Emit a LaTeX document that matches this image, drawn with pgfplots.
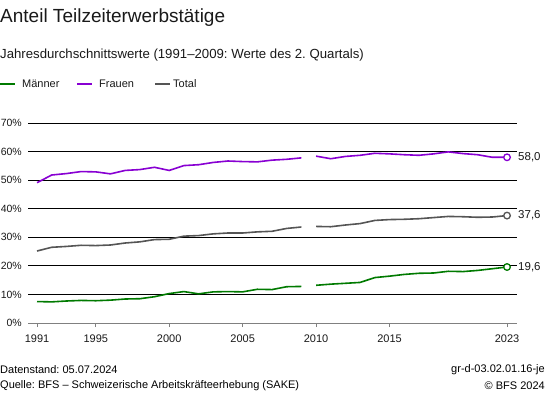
\documentclass[border=0pt]{standalone}
\usepackage{pgfplots}
\pgfplotsset{compat=1.18}
\usepackage{fontspec}
\setmainfont{Liberation Sans}
\frenchspacing
\definecolor{cmen}{RGB}{0,122,0}
\definecolor{cwomen}{RGB}{136,0,210}
\definecolor{ctotal}{RGB}{85,85,85}
\definecolor{ctxt}{RGB}{25,25,25}
\begin{document}
\begin{tikzpicture}[x=1bp,y=1bp]
\path[use as bounding box] (0,0) rectangle (550,395);
\begin{axis}[
  at={(28bp,72bp)}, anchor=south west, scale only axis,
  width=489bp, height=200bp,
  xmin=1990.387, xmax=2023.68, ymin=0, ymax=70,
  axis x line*=bottom, axis y line*=left,
  x axis line style={draw=gray, line width=0.9bp, -},
  y axis line style={draw=none},
  ytick={10,20,30,40,50,60,70},
  yticklabels={10\%,20\%,30\%,40\%,50\%,60\%,70\%},
  extra y ticks={0}, extra y tick labels={0\%},
  extra y tick style={ymajorgrids=false},
  ymajorgrids, grid style={black, line width=0.8bp},
  ytick style={draw=none},
  yticklabel style={font=\fontsize{10.5bp}{13bp}\selectfont, text=ctxt, anchor=east, inner sep=0pt, xshift=-2bp},
  xtick={1991,1995,2000,2005,2010,2015,2023},
  xticklabels={1991,1995,2000,2005,2010,2015,2023},
  xtick style={draw=gray, line width=0.9bp},
  tick align=outside, major tick length=4bp,
  xticklabel style={font=\fontsize{11bp}{13bp}\selectfont, text=ctxt, yshift=-4bp},
  unbounded coords=jump,
  clip=false,
]
% Frauen
\addplot[cwomen, line width=1.6bp] coordinates {
(1991,49.1)(1992,51.8)(1993,52.3)(1994,53.0)(1995,52.9)(1996,52.2)(1997,53.4)(1998,53.7)(1999,54.5)(2000,53.4)
(2001,55.1)(2002,55.4)(2003,56.2)(2004,56.7)(2005,56.5)(2006,56.4)(2007,57.0)(2008,57.3)(2009,57.8)
(2009.5,nan)
(2010,58.4)(2011,57.5)(2012,58.3)(2013,58.7)(2014,59.4)(2015,59.2)(2016,58.9)(2017,58.7)(2018,59.2)(2019,59.9)
(2020,59.3)(2021,58.9)(2022,58.0)(2023,58.0)};
% Total
\addplot[ctotal, line width=1.6bp] coordinates {
(1991,25.2)(1992,26.5)(1993,26.8)(1994,27.2)(1995,27.1)(1996,27.3)(1997,28.0)(1998,28.4)(1999,29.2)(2000,29.3)
(2001,30.4)(2002,30.6)(2003,31.2)(2004,31.5)(2005,31.5)(2006,31.9)(2007,32.1)(2008,33.1)(2009,33.6)
(2009.5,nan)
(2010,33.8)(2011,33.7)(2012,34.3)(2013,34.8)(2014,35.9)(2015,36.2)(2016,36.3)(2017,36.5)(2018,36.9)(2019,37.3)
(2020,37.2)(2021,37.0)(2022,37.1)(2023,37.6)};
% Maenner
\addplot[cmen, line width=1.6bp] coordinates {
(1991,7.5)(1992,7.4)(1993,7.7)(1994,7.9)(1995,7.8)(1996,8.0)(1997,8.4)(1998,8.5)(1999,9.2)(2000,10.3)
(2001,11.0)(2002,10.2)(2003,10.9)(2004,11.0)(2005,10.9)(2006,11.8)(2007,11.7)(2008,12.7)(2009,12.8)
(2009.5,nan)
(2010,13.2)(2011,13.6)(2012,13.9)(2013,14.2)(2014,15.9)(2015,16.4)(2016,17.0)(2017,17.4)(2018,17.5)(2019,18.1)
(2020,18.0)(2021,18.4)(2022,19.0)(2023,19.6)};
% end markers
\addplot[only marks, mark=*, mark size=3.3bp, mark options={draw=cwomen, fill=white, line width=1.3bp}] coordinates {(2023,58.0)};
\addplot[only marks, mark=*, mark size=3.3bp, mark options={draw=ctotal, fill=white, line width=1.3bp}] coordinates {(2023,37.6)};
\addplot[only marks, mark=*, mark size=3.3bp, mark options={draw=cmen, fill=white, line width=1.3bp}] coordinates {(2023,19.6)};
\node[anchor=west, font=\fontsize{11.5bp}{13bp}\selectfont, text=ctxt, inner sep=0pt] at (axis cs:2023,58.0) [xshift=11bp] {58,0};
\node[anchor=west, font=\fontsize{11.5bp}{13bp}\selectfont, text=ctxt, inner sep=0pt] at (axis cs:2023,37.6) [xshift=11bp] {37,6};
\node[anchor=west, font=\fontsize{11.5bp}{13bp}\selectfont, text=ctxt, inner sep=0pt] at (axis cs:2023,19.6) [xshift=11bp] {19,6};
\end{axis}
% titles
\node[anchor=west, inner sep=0pt, text=ctxt, font=\fontsize{19bp}{22bp}\selectfont] at (0,377) {Anteil Teilzeiterwerbstätige};
\node[anchor=west, inner sep=0pt, text=ctxt, font=\fontsize{13.2bp}{15bp}\selectfont] at (0,340) {Jahresdurchschnittswerte (1991–2009: Werte des 2. Quartals)};
% legend
\draw[cmen, line width=1.6bp] (0,311) -- (15,311);
\node[anchor=west, inner sep=0pt, text=ctxt, font=\fontsize{11bp}{13bp}\selectfont] at (22,311) {Männer};
\draw[cwomen, line width=1.6bp] (77,311) -- (92,311);
\node[anchor=west, inner sep=0pt, text=ctxt, font=\fontsize{11bp}{13bp}\selectfont] at (99,311) {Frauen};
\draw[ctotal, line width=1.6bp] (155,311) -- (170,311);
\node[anchor=west, inner sep=0pt, text=ctxt, font=\fontsize{11bp}{13bp}\selectfont] at (173,311) {Total};
% footer
\node[anchor=west, inner sep=0pt, text=black, font=\fontsize{11bp}{13bp}\selectfont] at (0,25) {Datenstand: 05.07.2024};
\node[anchor=west, inner sep=0pt, text=black, font=\fontsize{11bp}{13bp}\selectfont] at (0,9) {Quelle: BFS – Schweizerische Arbeitskräfteerhebung (SAKE)};
\node[anchor=east, inner sep=0pt, text=black, font=\fontsize{11bp}{13bp}\selectfont] at (545,25) {gr-d-03.02.01.16-je};
\node[anchor=east, inner sep=0pt, text=black, font=\fontsize{11bp}{13bp}\selectfont] at (545,9) {© BFS 2024};
\end{tikzpicture}
\end{document}
